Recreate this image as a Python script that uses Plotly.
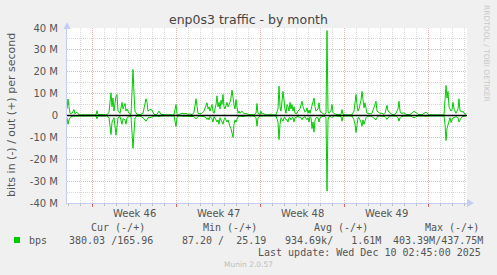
import plotly.graph_objects as go

# ---- data (2-hour slots from left edge, values in Mbit/s) ----
slots = ([0, 1, 2, 3, 5, 7, 8, 10, 12]
         + [29, 30, 31, 40, 42, 44, 45, 46, 47, 49, 50, 51]
         + [53, 55, 56, 58, 59, 60, 62, 64, 66, 67, 68, 70]
         + [73, 76, 79, 80, 81, 83, 85, 87, 90, 92, 94, 98]
         + [107, 109, 110, 111, 115, 117, 119, 121, 123, 125, 127]
         + [129, 130, 131, 133, 135, 137, 139, 140, 141, 142, 143]
         + [145, 146, 147, 149, 150, 151, 152, 153, 154, 155, 156, 157, 158]
         + [160, 161, 163, 164, 165, 166, 167, 168, 169, 170, 171, 172, 173]
         + [175, 177, 179, 181, 183, 187, 189, 190, 191, 193, 194, 195, 196]
         + [199, 203, 204, 205, 209, 211, 212, 213, 214, 216, 217, 218]
         + [219, 220, 221, 222, 223, 224, 225, 226, 227, 228, 230, 231]
         + [233, 234, 235, 236, 238, 239, 240, 241, 242, 243, 244]
         + [245, 246, 247, 248, 249, 251, 252, 253, 255, 257]
         + [259, 260, 261, 262, 264, 265, 266, 267, 269, 273, 274, 275, 276, 278]
         + [285, 287, 288, 289, 290, 291, 292, 293, 294, 295, 296, 297, 298, 299]
         + [300, 301, 303, 305, 307, 308, 309, 310, 311, 313, 315, 317, 318, 319, 320, 321, 322]
         + [323, 325, 327, 329, 331, 332, 333, 334, 337, 339, 341, 343, 345, 346, 347, 348, 349, 351]
         + [355, 357, 359, 360, 362, 377, 378, 379, 380, 381, 382, 383, 384, 385, 386, 387, 389, 391,
            392, 393, 394, 395, 396, 397, 399])

out_mbps = ([3, 7.5, 4, 1, 1, 2.7, 0.8, 1.5, 0.3]
            + [0.3, 2.2, 0.5, 0.3, 1.5, 10.4, 4, 8, 2, 9, 9.6, 2]
            + [1, 6, 3, 5.5, 2, 3, 1, 0.5, 21, 10, 2, 0.5]
            + [0.4, 1, 7.6, 6, 2, 2.7, 2.5, 0.5, 0.5, 2, 0.5, 0.3]
            + [0.3, 5, 1, 0.3, 1, 0.8, 1, 0.5, 0.8, 0.3, 1.5]
            + [7.6, 3, 1, 0.8, 1, 2, 4, 5.8, 3, 4, 2]
            + [5, 2, 1, 5, 9, 4, 6, 3, 7, 5, 9.6, 4, 3]
            + [6, 4, 6, 8, 11.6, 7, 5, 3, 7.3, 4, 1, 2, 1]
            + [2, 0.8, 1, 0.5, 0.4, 0.3, 1, 5.5, 1, 0.5, 2, 0.5, 1]
            + [0.3, 0.3, 0.8, 0.3, 0.3, 3, 13.4, 4, 2, 11, 6, 3]
            + [1, 5, 4, 2, 6, 3, 5, 2, 4, 1, 1, 2]
            + [3, 5, 6.5, 4, 1.5, 2, 3.5, 1, 2.5, 1, 3]
            + [5, 6, 8, 4, 2, 3, 5.8, 2, 1, 0.5]
            + [1, 38.8, 2, 1, 2, 5, 1.5, 0.8, 0.5, 0.4, 0.5, 2.7, 0.5, 0.3]
            + [0.3, 2, 6, 9.6, 5, 2, 3, 5, 7, 11, 5, 3.5, 5.8, 2]
            + [1, 1, 0.8, 1, 4, 5, 6.5, 2, 1.5, 1, 1, 0.5, 1, 3, 4.6, 2, 1.5]
            + [1, 0.5, 0.4, 1, 3, 6.5, 2, 1, 1.2, 0.5, 0.4, 0.5, 1, 1.5, 2, 1.5, 1.5, 0.5]
            + [0.3, 1, 1.5, 1, 0.3, 0.3, 6, 13.7, 8, 11, 4, 3, 2, 2.7, 6, 3, 1, 3,
               7.6, 2, 2, 1.5, 2, 1, 0.5])

in_mbps = ([-1, -4, -2, -1, -0.3, -0.3, -0.2, -0.3, -0.2]
           + [-0.2, -1.5, -0.3, -0.2, -1, -8.7, -3, -2, -1, -9, -4, -1]
           + [-0.5, -4, -1.5, -2, -4, -1, -0.5, -0.5, -15, -5, -1, -0.3]
           + [-0.2, -1, -2.6, -2, -1, -1, -0.5, -0.3, -0.2, -0.5, -0.2, -0.2]
           + [-0.2, -5, -1, -0.2, -0.2, -0.2, -0.2, -0.2, -0.2, -0.2, -0.5]
           + [-1.5, -1, -0.5, -0.2, -0.3, -0.5, -1, -1.8, -1, -2, -0.5]
           + [-1.5, -3, -0.5, -2, -3, -2, -4, -1, -2, -3, -4, -2, -1]
           + [-3, -2, -5, -6, -8, -10, -4, -2, -3, -1, -0.5, -0.5, -0.3]
           + [-0.5, -0.2, -0.2, -0.2, -0.2, -0.2, -1, -4.9, -1, -0.2, -0.3, -0.2, -0.2]
           + [-0.2, -0.2, -0.2, -0.2, -0.2, -3, -11, -4, -1, -2.6, -1, -1]
           + [-2, -2, -3, -1, -1, -2, -1, -1, -3, -1, -0.5, -0.5]
           + [-1, -1, -2, -1, -0.5, -1, -2, -1, -3, -0.5, -1]
           + [-6, -3, -7.6, -2, -1, -1, -3, -1, -0.5, -0.2]
           + [-1, -34.5, -2, -0.5, -0.5, -1, -0.5, -0.2, -0.2, -0.2, -0.5, -2.6, -0.5, -0.2]
           + [-0.2, -2, -4, -7.8, -3, -1, -1, -2, -3, -4.9, -2, -4, -2, -1]
           + [-0.5, -0.3, -0.2, -0.5, -1.5, -2, -2, -1, -0.2, -0.2, -0.2, -0.2, -0.5, -1, -1.8, -1, -0.5]
           + [-0.2, -0.2, -0.2, -0.3, -1, -2.6, -1, -0.5, -0.3, -0.2, -0.2, -0.2, -0.5, -1, -0.8, -1, -0.5, -0.2]
           + [-0.2, -0.3, -0.5, -0.3, -0.2, -0.2, -4, -11.4, -6, -4, -2, -1, -3.2, -2, -1, -1, -0.5, -1,
              -3, -2, -1, -0.5, -0.5, -0.3, -0.2])

assert len(slots) == len(out_mbps) == len(in_mbps), (len(slots), len(out_mbps), len(in_mbps))

week_lines_h = [50, 218, 386, 554, 722]
week_labels = ["Week 46", "Week 47", "Week 48", "Week 49"]
y_ticks_m = [-40, -30, -20, -10, 0, 10, 20, 30, 40]
y_tick_text = ["-40 M", "-30 M", "-20 M", "-10 M", "0", "10 M", "20 M", "30 M", "40 M"]

hours = [s * 2 for s in slots]
out_bps = [v * 1e6 for v in out_mbps]
in_bps = [v * 1e6 for v in in_mbps]

W, H = 497, 275
L, R, T, B = 67, 30, 28, 72
PW, PH = W - L - R, H - T - B


def px(x):
    return (x - L) / PW


def py(y):
    return (T + PH - y) / PH


GREEN = "#00CC00"
fig = go.Figure()
fig.add_trace(go.Scatter(x=hours, y=out_bps, mode="lines", line=dict(color=GREEN, width=1), showlegend=False))
fig.add_trace(go.Scatter(x=hours, y=in_bps, mode="lines", line=dict(color=GREEN, width=1), showlegend=False))
fig.add_trace(go.Scatter(x=[0, 800], y=[0, 0], mode="lines", line=dict(color="#000000", width=1.5), showlegend=False))

MAJ = "#eeb4b4"
MIN = "#d9d9d9"
AX = "#c5cdf5"
DASH = "1px,1px"

fig.update_layout(
    width=W, height=H, margin=dict(l=L, r=R, t=T, b=B),
    paper_bgcolor="#F0F0F0", plot_bgcolor="#FFFFFF",
    font=dict(family="DejaVu Sans", size=10, color="#555555"),
    xaxis=dict(range=[0, 800], tickmode="array", tickvals=week_lines_h, showticklabels=False,
               ticks="outside", ticklen=3, tickcolor="#e06060",
               showgrid=True, gridcolor=MAJ, griddash=DASH, gridwidth=1,
               minor=dict(tickmode="linear", tick0=2, dtick=24, showgrid=True, gridcolor=MIN,
                          griddash=DASH, ticks="outside", ticklen=2, tickcolor="#bbbbbb"),
               showline=True, linecolor=AX, linewidth=1, zeroline=False, fixedrange=True),
    yaxis=dict(range=[-40e6, 40e6], tickmode="array", tickvals=[v * 1e6 for v in y_ticks_m],
               ticktext=y_tick_text, ticks="", ticklabelstandoff=6,
               tickfont=dict(family="DejaVu Sans", size=10, color="#555555"),
               showgrid=True, gridcolor=MAJ, griddash=DASH, gridwidth=1,
               minor=dict(tickmode="linear", tick0=0, dtick=5e6, showgrid=True, gridcolor=MIN,
                          griddash=DASH),
               showline=True, linecolor=AX, linewidth=1, zeroline=False, fixedrange=True),
)

ann = []


def text(x, y, s, size=10, color="#555555", family="DejaVu Sans Mono", xanchor="left", **kw):
    ann.append(dict(x=px(x), y=py(y), xref="paper", yref="paper", text=s, showarrow=False,
                    xanchor=xanchor, yanchor="middle",
                    font=dict(family=family, size=size, color=color), **kw))


# title
text(248, 20, "enp0s3 traffic - by month", size=12.5, color="#444444", family="DejaVu Sans", xanchor="center")
# y axis title
ann.append(dict(x=px(11), y=py(115), xref="paper", yref="paper", text="bits in (-) / out (+) per second",
                showarrow=False, textangle=-90, xanchor="center", yanchor="middle",
                font=dict(family="DejaVu Sans", size=11, color="#555555")))
# watermark
ann.append(dict(x=px(487), y=py(53), xref="paper", yref="paper", text="RRDTOOL / TOBI OETIKER",
                showarrow=False, textangle=90, xanchor="center", yanchor="middle",
                font=dict(family="DejaVu Sans", size=7.5, color="#c8c8c8")))
# week labels
for i, lab in enumerate(week_labels):
    mid = (week_lines_h[i] + week_lines_h[i + 1]) / 2
    ann.append(dict(x=mid, y=py(213), xref="x", yref="paper", text=lab, showarrow=False,
                    xanchor="center", yanchor="middle",
                    font=dict(family="DejaVu Sans", size=10, color="#555555")))

NB = "\u00a0"
text(89, 227, "Cur (-/+)".replace(" ", NB))
text(201, 227, "Min (-/+)".replace(" ", NB))
text(312, 227, "Avg (-/+)".replace(" ", NB))
text(423, 227, "Max (-/+)".replace(" ", NB))
text(27, 240, "bps")
text(66.5, 240, "380.03 /165.96".replace(" ", NB))
text(180, 240, "87.20 /  25.19".replace(" ", NB))
text(283, 240, "934.69k/   1.61M".replace(" ", NB))
text(391, 240, "403.39M/437.75M".replace(" ", NB))
text(482.5, 252, "Last update: Wed Dec 10 02:45:00 2025".replace(" ", NB), xanchor="right")
text(248, 264, "Munin 2.0.57", size=7.5, color="#bdbdbd", family="DejaVu Sans", xanchor="center")

fig.update_layout(annotations=ann)

shapes = [
    # legend swatch
    dict(type="rect", xref="paper", yref="paper", x0=px(14), x1=px(20), y0=py(243), y1=py(237),
         fillcolor=GREEN, line=dict(width=0)),
    # axis arrows
    dict(type="path", xref="paper", yref="paper",
         path=f"M {px(63.5)} {py(29)} L {px(70.5)} {py(29)} L {px(67)} {py(22)} Z",
         fillcolor=AX, line=dict(width=0)),
    dict(type="path", xref="paper", yref="paper",
         path=f"M {px(467)} {py(199)} L {px(467)} {py(207)} L {px(474)} {py(203)} Z",
         fillcolor=AX, line=dict(width=0)),
]
fig.update_layout(shapes=shapes)

fig.write_html("out.html")
